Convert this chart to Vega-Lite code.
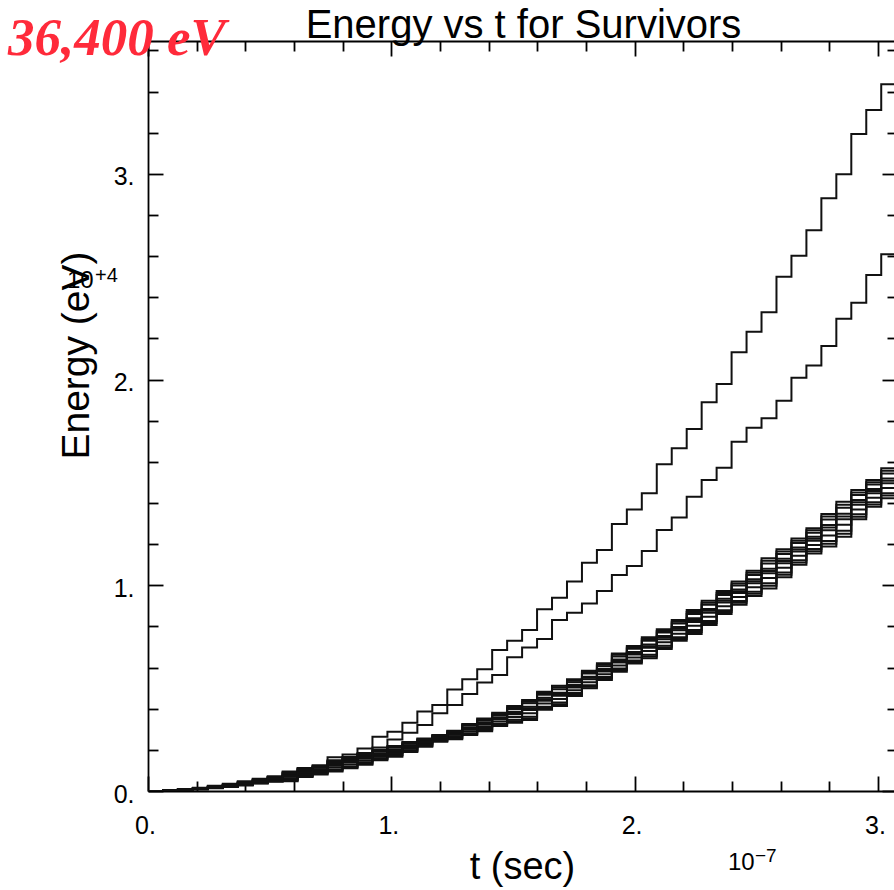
{
  "$schema": "https://vega.github.io/schema/vega-lite/v6.json",
  "width": 746,
  "height": 750,
  "autosize": {"type": "none"},
  "padding": {"left": 148, "top": 41, "right": 0, "bottom": 99},
  "background": "white",
  "config": {
    "view": {"stroke": null},
    "axis": {
      "grid": false,
      "domainColor": "black",
      "tickColor": "black",
      "domainWidth": 1.8,
      "tickWidth": 1.8,
      "labelColor": "black",
      "titleColor": "black",
      "labelFont": "Liberation Sans",
      "titleFont": "Liberation Sans",
      "labelFontSize": 25,
      "titleFontWeight": "normal",
      "labelFlush": false,
      "labelOverlap": false,
      "labelBound": false
    }
  },
  "datasets": {
    "runs": [
      {"t": 0, "A": 0, "B": 0, "c1": 0, "c2": 0, "c3": 0, "c4": 0, "c5": 0, "c6": 0, "c7": 0, "c8": 0, "c9": 0, "c10": 0},
      {"t": 0.0615, "A": 0.003, "B": 0.002, "c1": 0.003, "c2": 0.001, "c3": 0.003, "c4": 0.001, "c5": 0.002, "c6": 0.002, "c7": 0.002, "c8": 0.003, "c9": 0.001, "c10": 0.002},
      {"t": 0.123, "A": 0.010, "B": 0.009, "c1": 0.008, "c2": 0.004, "c3": 0.007, "c4": 0.005, "c5": 0.007, "c6": 0.005, "c7": 0.006, "c8": 0.008, "c9": 0.005, "c10": 0.007},
      {"t": 0.1845, "A": 0.016, "B": 0.015, "c1": 0.015, "c2": 0.008, "c3": 0.014, "c4": 0.009, "c5": 0.013, "c6": 0.010, "c7": 0.011, "c8": 0.015, "c9": 0.009, "c10": 0.012},
      {"t": 0.246, "A": 0.025, "B": 0.023, "c1": 0.022, "c2": 0.013, "c3": 0.020, "c4": 0.015, "c5": 0.019, "c6": 0.016, "c7": 0.018, "c8": 0.021, "c9": 0.014, "c10": 0.019},
      {"t": 0.3075, "A": 0.035, "B": 0.032, "c1": 0.030, "c2": 0.019, "c3": 0.028, "c4": 0.021, "c5": 0.026, "c6": 0.023, "c7": 0.025, "c8": 0.029, "c9": 0.020, "c10": 0.026},
      {"t": 0.369, "A": 0.048, "B": 0.044, "c1": 0.042, "c2": 0.027, "c3": 0.039, "c4": 0.030, "c5": 0.037, "c6": 0.032, "c7": 0.035, "c8": 0.041, "c9": 0.029, "c10": 0.036},
      {"t": 0.4305, "A": 0.060, "B": 0.056, "c1": 0.055, "c2": 0.036, "c3": 0.052, "c4": 0.039, "c5": 0.048, "c6": 0.042, "c7": 0.046, "c8": 0.054, "c9": 0.038, "c10": 0.047},
      {"t": 0.492, "A": 0.072, "B": 0.068, "c1": 0.068, "c2": 0.045, "c3": 0.064, "c4": 0.049, "c5": 0.060, "c6": 0.053, "c7": 0.057, "c8": 0.066, "c9": 0.047, "c10": 0.059},
      {"t": 0.5535, "A": 0.095, "B": 0.090, "c1": 0.090, "c2": 0.048, "c3": 0.083, "c4": 0.055, "c5": 0.076, "c6": 0.062, "c7": 0.069, "c8": 0.087, "c9": 0.052, "c10": 0.073},
      {"t": 0.615, "A": 0.112, "B": 0.108, "c1": 0.108, "c2": 0.068, "c3": 0.101, "c4": 0.075, "c5": 0.094, "c6": 0.082, "c7": 0.088, "c8": 0.105, "c9": 0.072, "c10": 0.091},
      {"t": 0.6765, "A": 0.125, "B": 0.120, "c1": 0.120, "c2": 0.080, "c3": 0.113, "c4": 0.087, "c5": 0.106, "c6": 0.094, "c7": 0.100, "c8": 0.117, "c9": 0.084, "c10": 0.103},
      {"t": 0.738, "A": 0.164, "B": 0.143, "c1": 0.150, "c2": 0.095, "c3": 0.141, "c4": 0.104, "c5": 0.131, "c6": 0.114, "c7": 0.123, "c8": 0.146, "c9": 0.100, "c10": 0.127},
      {"t": 0.7995, "A": 0.178, "B": 0.160, "c1": 0.165, "c2": 0.110, "c3": 0.156, "c4": 0.119, "c5": 0.146, "c6": 0.129, "c7": 0.138, "c8": 0.161, "c9": 0.115, "c10": 0.142},
      {"t": 0.861, "A": 0.207, "B": 0.180, "c1": 0.185, "c2": 0.128, "c3": 0.175, "c4": 0.138, "c5": 0.166, "c6": 0.147, "c7": 0.157, "c8": 0.180, "c9": 0.133, "c10": 0.162},
      {"t": 0.9225, "A": 0.264, "B": 0.212, "c1": 0.200, "c2": 0.150, "c3": 0.192, "c4": 0.159, "c5": 0.183, "c6": 0.167, "c7": 0.175, "c8": 0.196, "c9": 0.155, "c10": 0.179},
      {"t": 0.984, "A": 0.288, "B": 0.250, "c1": 0.219, "c2": 0.167, "c3": 0.210, "c4": 0.176, "c5": 0.201, "c6": 0.185, "c7": 0.193, "c8": 0.215, "c9": 0.172, "c10": 0.197},
      {"t": 1.0455, "A": 0.332, "B": 0.283, "c1": 0.238, "c2": 0.190, "c3": 0.230, "c4": 0.198, "c5": 0.222, "c6": 0.206, "c7": 0.214, "c8": 0.234, "c9": 0.194, "c10": 0.218},
      {"t": 1.107, "A": 0.386, "B": 0.321, "c1": 0.255, "c2": 0.215, "c3": 0.248, "c4": 0.222, "c5": 0.241, "c6": 0.229, "c7": 0.235, "c8": 0.252, "c9": 0.219, "c10": 0.238},
      {"t": 1.1685, "A": 0.418, "B": 0.378, "c1": 0.272, "c2": 0.240, "c3": 0.267, "c4": 0.245, "c5": 0.261, "c6": 0.251, "c7": 0.256, "c8": 0.270, "c9": 0.243, "c10": 0.259},
      {"t": 1.23, "A": 0.494, "B": 0.418, "c1": 0.293, "c2": 0.252, "c3": 0.286, "c4": 0.259, "c5": 0.279, "c6": 0.266, "c7": 0.273, "c8": 0.290, "c9": 0.256, "c10": 0.276},
      {"t": 1.2915, "A": 0.543, "B": 0.472, "c1": 0.326, "c2": 0.272, "c3": 0.317, "c4": 0.281, "c5": 0.308, "c6": 0.290, "c7": 0.299, "c8": 0.322, "c9": 0.277, "c10": 0.304},
      {"t": 1.353, "A": 0.592, "B": 0.527, "c1": 0.353, "c2": 0.290, "c3": 0.342, "c4": 0.301, "c5": 0.332, "c6": 0.311, "c7": 0.322, "c8": 0.348, "c9": 0.296, "c10": 0.327},
      {"t": 1.4145, "A": 0.685, "B": 0.564, "c1": 0.381, "c2": 0.316, "c3": 0.370, "c4": 0.327, "c5": 0.359, "c6": 0.338, "c7": 0.349, "c8": 0.376, "c9": 0.322, "c10": 0.354},
      {"t": 1.476, "A": 0.731, "B": 0.650, "c1": 0.413, "c2": 0.332, "c3": 0.399, "c4": 0.346, "c5": 0.385, "c6": 0.360, "c7": 0.373, "c8": 0.406, "c9": 0.339, "c10": 0.379},
      {"t": 1.5375, "A": 0.783, "B": 0.697, "c1": 0.442, "c2": 0.345, "c3": 0.426, "c4": 0.361, "c5": 0.409, "c6": 0.378, "c7": 0.394, "c8": 0.434, "c9": 0.353, "c10": 0.402},
      {"t": 1.599, "A": 0.883, "B": 0.739, "c1": 0.483, "c2": 0.395, "c3": 0.468, "c4": 0.410, "c5": 0.453, "c6": 0.425, "c7": 0.439, "c8": 0.476, "c9": 0.403, "c10": 0.446},
      {"t": 1.6605, "A": 0.940, "B": 0.831, "c1": 0.512, "c2": 0.413, "c3": 0.495, "c4": 0.430, "c5": 0.478, "c6": 0.447, "c7": 0.463, "c8": 0.504, "c9": 0.422, "c10": 0.471},
      {"t": 1.722, "A": 1.018, "B": 0.867, "c1": 0.543, "c2": 0.462, "c3": 0.529, "c4": 0.476, "c5": 0.515, "c6": 0.490, "c7": 0.503, "c8": 0.536, "c9": 0.469, "c10": 0.509},
      {"t": 1.7835, "A": 1.110, "B": 0.912, "c1": 0.585, "c2": 0.500, "c3": 0.571, "c4": 0.514, "c5": 0.556, "c6": 0.529, "c7": 0.543, "c8": 0.578, "c9": 0.507, "c10": 0.550},
      {"t": 1.845, "A": 1.172, "B": 0.972, "c1": 0.621, "c2": 0.540, "c3": 0.607, "c4": 0.554, "c5": 0.593, "c6": 0.568, "c7": 0.581, "c8": 0.614, "c9": 0.547, "c10": 0.587},
      {"t": 1.9065, "A": 1.298, "B": 1.050, "c1": 0.669, "c2": 0.580, "c3": 0.654, "c4": 0.595, "c5": 0.639, "c6": 0.610, "c7": 0.625, "c8": 0.662, "c9": 0.588, "c10": 0.632},
      {"t": 1.968, "A": 1.369, "B": 1.094, "c1": 0.705, "c2": 0.620, "c3": 0.691, "c4": 0.634, "c5": 0.676, "c6": 0.649, "c7": 0.663, "c8": 0.698, "c9": 0.627, "c10": 0.670},
      {"t": 2.0295, "A": 1.447, "B": 1.167, "c1": 0.747, "c2": 0.645, "c3": 0.730, "c4": 0.662, "c5": 0.712, "c6": 0.680, "c7": 0.696, "c8": 0.739, "c9": 0.654, "c10": 0.704},
      {"t": 2.091, "A": 1.588, "B": 1.269, "c1": 0.786, "c2": 0.690, "c3": 0.770, "c4": 0.706, "c5": 0.753, "c6": 0.723, "c7": 0.738, "c8": 0.778, "c9": 0.698, "c10": 0.746},
      {"t": 2.1525, "A": 1.666, "B": 1.329, "c1": 0.831, "c2": 0.730, "c3": 0.814, "c4": 0.747, "c5": 0.797, "c6": 0.764, "c7": 0.781, "c8": 0.823, "c9": 0.739, "c10": 0.789},
      {"t": 2.214, "A": 1.760, "B": 1.431, "c1": 0.880, "c2": 0.763, "c3": 0.860, "c4": 0.783, "c5": 0.840, "c6": 0.803, "c7": 0.822, "c8": 0.870, "c9": 0.773, "c10": 0.831},
      {"t": 2.2755, "A": 1.890, "B": 1.512, "c1": 0.925, "c2": 0.807, "c3": 0.905, "c4": 0.827, "c5": 0.885, "c6": 0.847, "c7": 0.866, "c8": 0.915, "c9": 0.817, "c10": 0.876},
      {"t": 2.337, "A": 1.979, "B": 1.572, "c1": 0.972, "c2": 0.860, "c3": 0.953, "c4": 0.879, "c5": 0.934, "c6": 0.898, "c7": 0.916, "c8": 0.963, "c9": 0.870, "c10": 0.925},
      {"t": 2.3985, "A": 2.133, "B": 1.698, "c1": 1.018, "c2": 0.905, "c3": 0.999, "c4": 0.924, "c5": 0.980, "c6": 0.943, "c7": 0.962, "c8": 1.009, "c9": 0.915, "c10": 0.971},
      {"t": 2.46, "A": 2.233, "B": 1.766, "c1": 1.071, "c2": 0.948, "c3": 1.050, "c4": 0.969, "c5": 1.029, "c6": 0.990, "c7": 1.010, "c8": 1.061, "c9": 0.959, "c10": 1.020},
      {"t": 2.5215, "A": 2.327, "B": 1.812, "c1": 1.131, "c2": 0.985, "c3": 1.106, "c4": 1.010, "c5": 1.081, "c6": 1.035, "c7": 1.058, "c8": 1.119, "c9": 0.998, "c10": 1.070},
      {"t": 2.583, "A": 2.500, "B": 1.897, "c1": 1.175, "c2": 1.039, "c3": 1.152, "c4": 1.062, "c5": 1.129, "c6": 1.085, "c7": 1.107, "c8": 1.164, "c9": 1.051, "c10": 1.118},
      {"t": 2.6445, "A": 2.602, "B": 2.009, "c1": 1.228, "c2": 1.100, "c3": 1.206, "c4": 1.122, "c5": 1.184, "c6": 1.144, "c7": 1.164, "c8": 1.217, "c9": 1.111, "c10": 1.174},
      {"t": 2.706, "A": 2.726, "B": 2.069, "c1": 1.277, "c2": 1.155, "c3": 1.256, "c4": 1.176, "c5": 1.236, "c6": 1.196, "c7": 1.216, "c8": 1.267, "c9": 1.166, "c10": 1.226},
      {"t": 2.7675, "A": 2.881, "B": 2.163, "c1": 1.347, "c2": 1.188, "c3": 1.320, "c4": 1.215, "c5": 1.293, "c6": 1.242, "c7": 1.268, "c8": 1.334, "c9": 1.202, "c10": 1.281},
      {"t": 2.829, "A": 2.998, "B": 2.296, "c1": 1.406, "c2": 1.236, "c3": 1.377, "c4": 1.265, "c5": 1.348, "c6": 1.294, "c7": 1.321, "c8": 1.392, "c9": 1.251, "c10": 1.335},
      {"t": 2.8905, "A": 3.194, "B": 2.374, "c1": 1.463, "c2": 1.321, "c3": 1.439, "c4": 1.345, "c5": 1.415, "c6": 1.369, "c7": 1.392, "c8": 1.451, "c9": 1.333, "c10": 1.404},
      {"t": 2.952, "A": 3.311, "B": 2.509, "c1": 1.512, "c2": 1.382, "c3": 1.490, "c4": 1.404, "c5": 1.468, "c6": 1.426, "c7": 1.447, "c8": 1.501, "c9": 1.393, "c10": 1.458},
      {"t": 3.0135, "A": 3.436, "B": 2.609, "c1": 1.569, "c2": 1.423, "c3": 1.544, "c4": 1.448, "c5": 1.519, "c6": 1.473, "c7": 1.496, "c8": 1.557, "c9": 1.436, "c10": 1.508},
      {"t": 3.075, "A": 3.436, "B": 2.609, "c1": 1.569, "c2": 1.423, "c3": 1.544, "c4": 1.448, "c5": 1.519, "c6": 1.473, "c7": 1.496, "c8": 1.557, "c9": 1.436, "c10": 1.508}
    ]
  },
  "layer": [
    {
      "data": {"name": "runs"},
      "transform": [{"fold": ["A", "B", "c1", "c2", "c3", "c4", "c5", "c6", "c7", "c8", "c9", "c10"], "as": ["curve", "E"]}],
      "mark": {"type": "line", "interpolate": "step-after", "stroke": "#111111", "strokeWidth": 2, "clip": true},
      "encoding": {
        "x": {
          "field": "t", "type": "quantitative",
          "scale": {"domain": [0, 3.066], "nice": false, "zero": false},
          "axis": {
            "orient": "bottom", "values": [0, 1, 2, 3], "tickSize": -15,
            "labelPadding": 57, "labelBaseline": "alphabetic", "labelAlign": "center", "labelOffset": -3,
            "labelExpr": "format(datum.value, 'd') + '.'",
            "title": "t (sec)", "titleFontSize": 38, "titleX": 374, "titleY": 87,
            "titleBaseline": "alphabetic", "titleAlign": "center", "titleAngle": 0
          }
        },
        "y": {
          "field": "E", "type": "quantitative",
          "scale": {"domain": [0, 3.646], "nice": false, "zero": false},
          "axis": {
            "orient": "left", "values": [0, 1, 2, 3], "tickSize": -15,
            "labelPadding": 29, "labelBaseline": "alphabetic", "labelAlign": "right", "labelOffset": 11,
            "labelExpr": "format(datum.value, 'd') + '.'",
            "title": "Energy (eV)", "titleFontSize": 39, "titleX": -60, "titleY": 314,
            "titleAngle": 270, "titleBaseline": "alphabetic", "titleAlign": "center"
          }
        },
        "detail": {"field": "curve"}
      }
    },
    {
      "data": {"values": [{}]},
      "mark": {"type": "text", "text": "36,400 eV", "font": "Liberation Serif", "fontStyle": "italic", "fontWeight": "bold", "fontSize": 53, "color": "#ff2a3a", "align": "left", "baseline": "alphabetic"},
      "encoding": {
        "x": {
          "datum": -0.5754, "type": "quantitative",
          "scale": {"domain": [0, 3.066], "nice": false, "zero": false},
          "axis": {
            "orient": "top", "values": [0, 1, 2, 3], "tickSize": -15, "labels": false,
            "title": "Energy vs t for Survivors", "titleFontSize": 40, "titleX": 375, "titleY": -4,
            "titleBaseline": "alphabetic", "titleAlign": "center", "titleAngle": 0
          }
        },
        "y": {
          "datum": 3.5786, "type": "quantitative",
          "scale": {"domain": [0, 3.646], "nice": false, "zero": false},
          "axis": {"orient": "right", "values": [0, 1, 2, 3], "tickSize": -12, "labels": false, "domain": false, "title": null}
        }
      }
    },
    {
      "data": {"values": [{}]},
      "mark": {"type": "text", "text": "10", "font": "Liberation Sans", "fontSize": 24, "color": "black", "align": "left", "baseline": "alphabetic"},
      "encoding": {
        "x": {
          "datum": -0.3329, "type": "quantitative",
          "scale": {"domain": [0, 3.066], "nice": false, "zero": false},
          "axis": {"orient": "bottom", "values": [0.2, 0.4, 0.6, 0.8, 1.2, 1.4, 1.6, 1.8, 2.2, 2.4, 2.6, 2.8], "tickSize": -10, "labels": false, "domain": false, "title": null}
        },
        "y": {
          "datum": 2.4457, "type": "quantitative",
          "scale": {"domain": [0, 3.646], "nice": false, "zero": false},
          "axis": {"orient": "left", "values": [0.2, 0.4, 0.6, 0.8, 1.2, 1.4, 1.6, 1.8, 2.2, 2.4, 2.6, 2.8, 3.2, 3.4, 3.6], "tickSize": -10, "labels": false, "domain": false, "title": null}
        }
      }
    },
    {
      "data": {"values": [{}]},
      "mark": {"type": "text", "text": "+4", "font": "Liberation Sans", "fontSize": 20, "color": "black", "align": "left", "baseline": "alphabetic"},
      "encoding": {
        "x": {
          "datum": -0.2178, "type": "quantitative",
          "scale": {"domain": [0, 3.066], "nice": false, "zero": false},
          "axis": {"orient": "top", "values": [0.2, 0.4, 0.6, 0.8, 1.2, 1.4, 1.6, 1.8, 2.2, 2.4, 2.6, 2.8], "tickSize": -10, "labels": false, "domain": false, "title": null}
        },
        "y": {
          "datum": 2.4749, "type": "quantitative",
          "scale": {"domain": [0, 3.646], "nice": false, "zero": false},
          "axis": {"orient": "right", "values": [0.2, 0.4, 0.6, 0.8, 1.2, 1.4, 1.6, 1.8, 2.2, 2.4, 2.6, 2.8, 3.2, 3.4, 3.6], "tickSize": -7, "labels": false, "domain": false, "title": null}
        }
      }
    },
    {
      "data": {"values": [{}]},
      "mark": {"type": "text", "text": "10", "font": "Liberation Sans", "fontSize": 24, "color": "black", "align": "left", "baseline": "alphabetic"},
      "encoding": {
        "x": {"datum": 2.3836, "type": "quantitative", "scale": {"domain": [0, 3.066], "nice": false, "zero": false}, "axis": null},
        "y": {"datum": -0.3841, "type": "quantitative", "scale": {"domain": [0, 3.646], "nice": false, "zero": false}, "axis": null}
      }
    },
    {
      "data": {"values": [{}]},
      "mark": {"type": "text", "text": "−7", "font": "Liberation Sans", "fontSize": 19, "color": "black", "align": "left", "baseline": "alphabetic"},
      "encoding": {
        "x": {"datum": 2.4945, "type": "quantitative", "scale": {"domain": [0, 3.066], "nice": false, "zero": false}, "axis": null},
        "y": {"datum": -0.3452, "type": "quantitative", "scale": {"domain": [0, 3.646], "nice": false, "zero": false}, "axis": null}
      }
    }
  ],
  "resolve": {"axis": {"x": "independent", "y": "independent"}}
}
